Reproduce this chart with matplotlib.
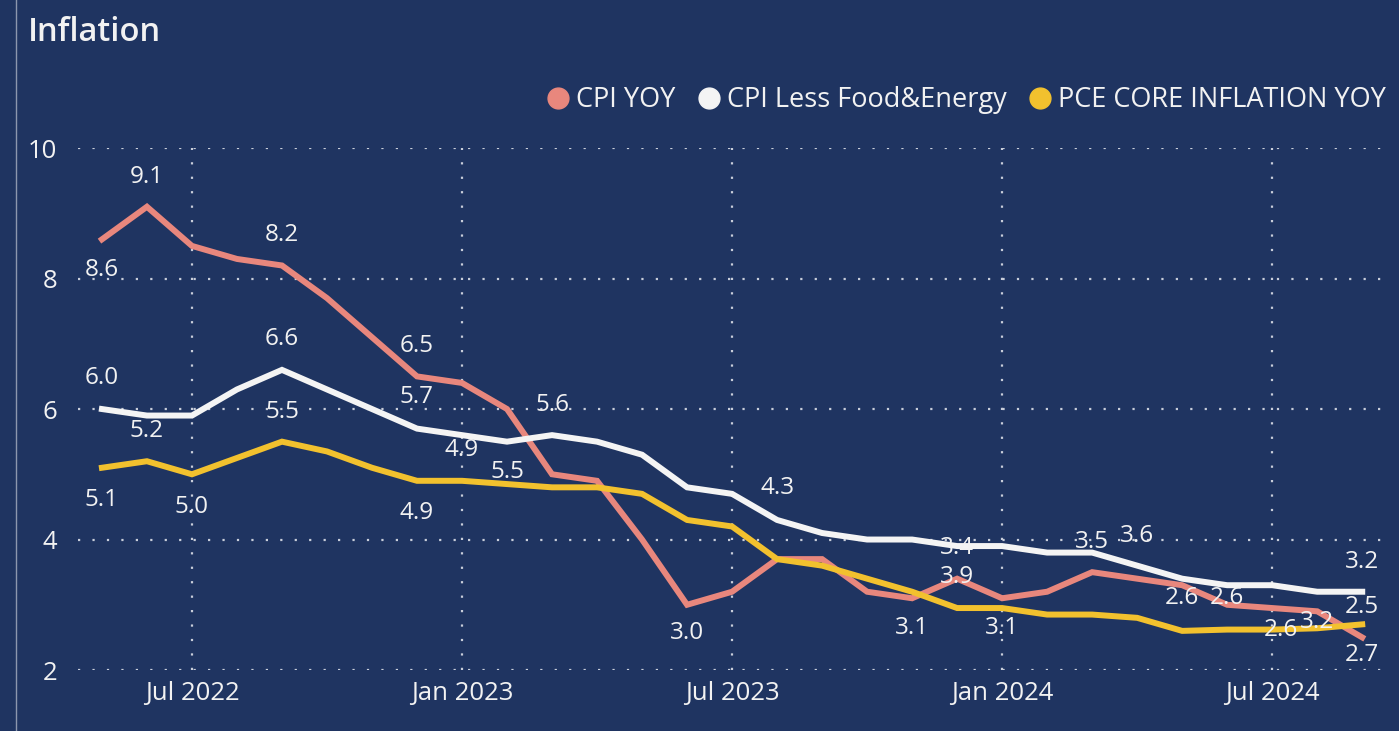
import numpy as np
import pandas as pd
from matplotlib import pyplot as plt
from matplotlib.lines import Line2D

# Monthly points, May 2022 .. Sep 2024
months = pd.date_range('2022-05-01', '2024-09-01', freq='MS')

cpi_yoy = [8.6, 9.1, 8.5, 8.3, 8.2, 7.7, 7.1, 6.5, 6.4, 6.0, 5.0, 4.9, 4.0, 3.0, 3.2,
           3.7, 3.7, 3.2, 3.1, 3.4, 3.1, 3.2, 3.5, 3.4, 3.3, 3.0, 2.95, 2.9, 2.5]
cpi_core = [6.0, 5.9, 5.9, 6.3, 6.6, 6.3, 6.0, 5.7, 5.6, 5.5, 5.6, 5.5, 5.3, 4.8, 4.7,
            4.3, 4.1, 4.0, 4.0, 3.9, 3.9, 3.8, 3.8, 3.6, 3.4, 3.3, 3.3, 3.2, 3.2]
pce_core = [5.1, 5.2, 5.0, 5.25, 5.5, 5.35, 5.1, 4.9, 4.9, 4.85, 4.8, 4.8, 4.7, 4.3, 4.2,
            3.7, 3.6, 3.4, 3.2, 2.95, 2.95, 2.85, 2.85, 2.8, 2.6, 2.62, 2.62, 2.64, 2.7]

series_names = ['CPI YOY', 'CPI Less Food&Energy', 'PCE CORE INFLATION YOY']
series_colors = ['#E8877D', '#F4F4F4', '#F2C12E']

# data labels as Power BI placed them (month index, y, text)
label_idx = [1, 0, 4, 7, 0, 4, 1, 7, 4, 0, 2, 7, 8, 9, 10, 15, 13, 18, 19, 19, 20,
             22, 23, 24, 25, 26.2, 27, 28, 28, 28]
label_y = [9.56, 8.13, 8.67, 6.97, 6.48, 7.07, 5.66, 6.18, 5.95, 4.61, 4.50, 4.41, 5.37,
           5.03, 6.06, 4.79, 2.57, 2.64, 3.87, 3.43, 2.64, 3.96, 4.05, 3.10, 3.10, 2.61,
           2.74, 3.66, 2.97, 2.23]
label_txt = ['9.1', '8.6', '8.2', '6.5', '6.0', '6.6', '5.2', '5.7', '5.5', '5.1', '5.0',
             '4.9', '4.9', '5.5', '5.6', '4.3', '3.0', '3.1', '3.4', '3.9', '3.1', '3.5',
             '3.6', '2.6', '2.6', '2.6', '3.2', '3.2', '2.5', '2.7']

bg = '#1F3461'
txt_col = '#F2F2F2'
plt.rcParams['font.family'] = ['Open Sans', 'DejaVu Sans']

fig = plt.figure(figsize=(13.99, 7.31), dpi=100, facecolor=bg)
ax = fig.add_axes([0.0558, 0.0834, 0.934, 0.7141], facecolor=bg)

x = np.arange(len(months))
for vals, name, col in zip([cpi_yoy, cpi_core, pce_core], series_names, series_colors):
    ax.plot(x, vals, color=col, lw=4.3, solid_joinstyle='miter', label=name, zorder=3)

for i, v, t in zip(label_idx, label_y, label_txt):
    ax.text(i, v, t, color=txt_col, fontsize=17.5, ha='center', va='center', zorder=4)

ax.set_ylim(2, 10)
ax.set_xlim(-0.53, 28.5)
ax.set_yticks([2, 4, 6, 8, 10])
tick_pos = [i for i, m in enumerate(months) if m.month in (1, 7)]
ax.set_xticks(tick_pos)
ax.set_xticklabels([months[i].strftime('%b %Y') for i in tick_pos])
ax.tick_params(colors=txt_col, labelsize=18.5, length=0, pad=8)
ax.tick_params(axis='y', pad=15)
ax.grid(True, color='#C9CEDA', linestyle=(0, (1, 5.5)), lw=1.6)
for s in ax.spines.values():
    s.set_visible(False)

# title and left border line
fig.text(0.02, 0.955, 'Inflation', color=txt_col, fontsize=23.5, fontweight='semibold',
         va='center', ha='left')
fig.add_artist(Line2D([0.0115, 0.0115], [0, 1], color='#8C97AE', lw=1))

handles = [Line2D([], [], marker='o', ls='', color=c, markersize=15) for c in series_colors]
fig.legend(handles, series_names, loc='center right', bbox_to_anchor=(1.008, 0.863), ncol=3,
           frameon=False, handletextpad=-0.35, columnspacing=0.25, labelcolor=txt_col,
           fontsize=19.5)

fig.savefig('out.png', dpi=100, facecolor=bg)
